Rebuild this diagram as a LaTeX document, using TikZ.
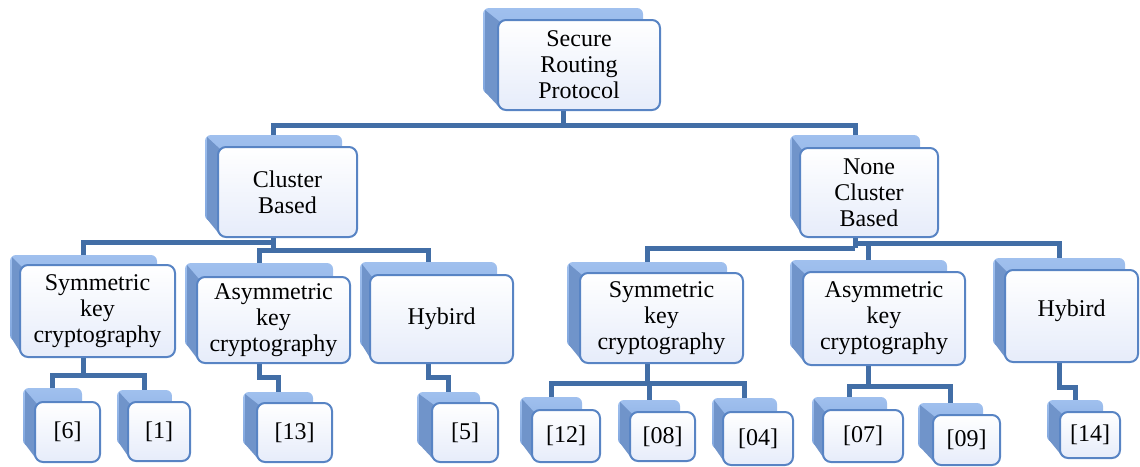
\documentclass[tikz,border=0pt]{standalone}
\usepackage{fontspec}
\setmainfont{Liberation Serif}
\usetikzlibrary{backgrounds,calc}
\definecolor{conncol}{RGB}{66,110,166}
\definecolor{frontline}{RGB}{88,132,196}
\definecolor{frontbot}{RGB}{230,236,250}
\definecolor{backtop}{RGB}{160,192,238}
\definecolor{backbot}{RGB}{128,166,222}
\definecolor{sidecol}{RGB}{112,148,202}
\tikzset{
 backbox/.style={rectangle, rounded corners=6pt, top color=backtop, bottom color=backbot, draw=none, inner sep=0pt},
 frontbox/.style={rectangle, rounded corners=8pt, draw=frontline, line width=2pt, top color=white, bottom color=frontbot, inner sep=0pt, align=center, font=\fontsize{24}{26}\selectfont},
 sideface/.style={fill=sidecol},
 conn/.style={draw=conncol, line width=5pt, line join=miter}
}
% #1 name, #2-#5 front x1 y1 x2 y2, #6-#8 back x1 y1 x2, #9 text
\newcommand\tdbox[9]{%
 \node[backbox, minimum width={(#8-#6)*1pt}, minimum height={(#5-16-#7)*1pt}] (#1b) at ({(#6+#8)/2},{(#7+#5-16)/2}) {};
 \fill[sideface] ({#6+2},{#7+2}) -- ({#2+2},{#3+2}) -- ({#2+2},{#5-2}) -- ({#6+2},{#5-18}) -- cycle;
 \node[frontbox, minimum width={(#4-#2)*1pt}, minimum height={(#5-#3)*1pt}] (#1) at ({(#2+#4)/2},{(#3+#5)/2}) {#9};
}
\begin{document}
\begin{tikzpicture}[x=1pt,y=-1pt]
\useasboundingbox (0,0) rectangle (1140,466);
\tdbox{root}{498}{20}{660}{110}{483}{8}{643}{Secure\\Routing\\Protocol}
\tdbox{cb}{218}{147}{357}{237}{205}{135}{342}{Cluster\\Based}
\tdbox{ncb}{800}{148}{938}{237}{790}{135}{920}{None\\Cluster\\Based}
\tdbox{ls}{20}{265}{175}{357}{10}{255}{157}{Symmetric\\key\\cryptography}
\tdbox{la}{197}{277}{350}{363}{185}{263}{333}{Asymmetric\\key\\cryptography}
\tdbox{lh}{370}{275}{513}{363}{360}{262}{497}{Hybird}
\tdbox{rs}{580}{273}{743}{363}{567}{262}{727}{Symmetric\\key\\cryptography}
\tdbox{ra}{803}{272}{965}{365}{790}{260}{947}{Asymmetric\\key\\cryptography}
\tdbox{rh}{1005}{270}{1138}{362}{993}{258}{1125}{Hybird\\[-10pt]}
\tdbox{lsix}{35}{402}{100}{462}{23}{388}{82}{[6]}
\tdbox{lone}{128}{402}{190}{461}{117}{390}{172}{[1]}
\tdbox{lthirteen}{257}{403}{332}{462}{243}{392}{313}{[13]}
\tdbox{lfive}{432}{403}{498}{462}{417}{392}{480}{[5]}
\tdbox{ltwelve}{532}{410}{600}{462}{520}{397}{582}{[12]}
\tdbox{leight}{630}{412}{695}{461}{618}{400}{680}{[08]}
\tdbox{lfour}{723}{412}{793}{465}{712}{398}{777}{[04]}
\tdbox{lseven}{823}{410}{903}{462}{812}{397}{887}{[07]}
\tdbox{lnine}{933}{415}{1000}{465}{918}{403}{983}{[09]}
\tdbox{lfourteen}{1060}{412}{1120}{458}{1047}{400}{1103}{[14]}
\begin{pgfonlayer}{background}
\draw[conn] (rootb.south |- root.south) -- (rootb.south |- 0,125);
\draw[conn] (cbb.north) -- (cbb.north |- 0,125) -- (ncbb.north |- 0,125) -- (ncbb.north);
\draw[conn] (cbb.south |- cb.south) -- (cbb.south |- 0,250);
\draw[conn] (lsb.north) -- (lsb.north |- 0,242) -- (cbb.south |- 0,242);
\draw[conn] (lab.north) -- (lab.north |- 0,250) -- (lhb.north |- 0,250) -- (lhb.north);
\draw[conn] (ncbb.south |- ncb.south) -- (ncbb.south |- 0,248);
\draw[conn] (rsb.north) -- (rsb.north |- 0,248) -- (ncbb.south |- 0,248);
\draw[conn] (ncbb.south |- 0,243) -- (rhb.north |- 0,243) -- (rhb.north);
\draw[conn] (rab.north) -- (rab.north |- 0,243);
\draw[conn] (lsb.south |- ls.south) -- (lsb.south |- 0,375);
\draw[conn] (lsixb.north) -- (lsixb.north |- 0,375) -- (loneb.north |- 0,375) -- (loneb.north);
\draw[conn] (lab.south |- la.south) -- (lab.south |- 0,377) -- (lthirteenb.north |- 0,377) -- (lthirteenb.north);
\draw[conn] (lhb.south |- lh.south) -- (lhb.south |- 0,377) -- (lfiveb.north |- 0,377) -- (lfiveb.north);
\draw[conn] (rsb.south |- rs.south) -- (rsb.south |- 0,383);
\draw[conn] (ltwelveb.north) -- (ltwelveb.north |- 0,383) -- (lfourb.north |- 0,383) -- (lfourb.north);
\draw[conn] (leightb.north) -- (leightb.north |- 0,383);
\draw[conn] (rab.south |- ra.south) -- (rab.south |- 0,386);
\draw[conn] (lsevenb.north) -- (lsevenb.north |- 0,386) -- (lnineb.north |- 0,386) -- (lnineb.north);
\draw[conn] (rhb.south |- rh.south) -- (rhb.south |- 0,387) -- (lfourteenb.north |- 0,387) -- (lfourteenb.north);
\end{pgfonlayer}
\end{tikzpicture}
\end{document}
